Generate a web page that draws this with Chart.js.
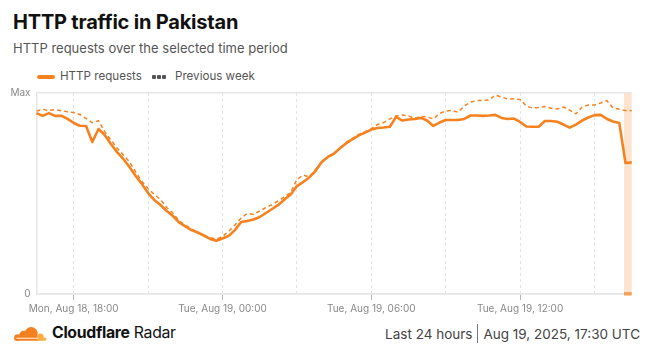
<!DOCTYPE html>
<html>
<head>
<meta charset="utf-8">
<script src="https://cdn.jsdelivr.net/npm/chart.js@4"></script>
<style>
  html,body{margin:0;padding:0;background:#fff;}
  body{width:648px;height:355px;position:relative;overflow:hidden;font-family:Inter,"Noto Sans",sans-serif;}
  .abs{position:absolute;white-space:nowrap;}
  #title{left:13px;top:10px;font-size:20px;font-weight:700;color:#111;letter-spacing:-0.2px;}
  #subtitle{left:13px;top:40px;font-size:13px;color:#555;}
  .leg{top:69px;font-size:11.6px;color:#555;}
  #sw1{left:37px;top:75px;width:18px;height:4px;border-radius:2px;background:#f6821f;}
  .dot{top:75px;width:4px;height:4px;background:#555;border-radius:1px;}
  #chartwrap{left:0;top:81px;width:648px;height:239px;}
  #brand{left:52px;top:323px;font-size:15.8px;color:#111;letter-spacing:-0.3px;}
  #stamp{right:8px;top:324px;font-size:13.5px;color:#444;display:flex;align-items:center;}
  #sep{display:inline-block;width:1px;height:19px;background:#777;margin:0 5px;}
</style>
</head>
<body>
<div id="title" class="abs">HTTP traffic in Pakistan</div>
<div id="subtitle" class="abs">HTTP requests over the selected time period</div>
<div id="sw1" class="abs"></div>
<div class="abs leg" style="left:60px">HTTP requests</div>
<div class="abs dot" style="left:152px"></div>
<div class="abs dot" style="left:157px"></div>
<div class="abs dot" style="left:162px"></div>
<div class="abs leg" style="left:175px">Previous week</div>
<div id="chartwrap" class="abs"><canvas id="c" width="648" height="239"></canvas></div>
<svg class="abs" style="left:11px;top:324px" width="36" height="17" viewBox="0 0 66 30">
  <g fill="#f38020">
    <circle cx="37" cy="17" r="12"/>
    <circle cx="23" cy="20" r="8"/>
    <circle cx="12" cy="24" r="6"/>
    <rect x="6" y="22" width="46" height="8" rx="3"/>
  </g>
  <g fill="#fbad41">
    <circle cx="54" cy="23" r="6"/>
    <rect x="48" y="24" width="17" height="6" rx="3"/>
  </g>
  <path d="M10 25.5 L50 25.5" stroke="#fff" stroke-width="1.6"/>
</svg>
<div id="brand" class="abs"><b>Cloudflare</b> Radar</div>
<div id="stamp" class="abs"><span>Last 24 hours</span><span id="sep"></span><span>Aug 19, 2025, 17:30 UTC</span></div>

<script>
// ---- data (values as % of period maximum, 15-minute steps, Aug 18 16:30 -> Aug 19 16:30 UTC) ----
const startTimeUTC = "2025-08-18T16:30:00Z";
const stepMinutes = 15;

const httpRequests = [
  90.0, 88.6, 90.0, 88.6, 88.7, 87.1, 85.1, 83.7, 83.6, 75.6,
  82.1, 79.1, 74.6, 70.6, 67.2, 63.2, 58.7, 54.7, 50.2, 46.8,
  44.3, 41.3, 38.8, 35.6, 33.6, 31.8, 30.6, 29.1, 27.4, 26.5,
  27.6, 28.9, 31.8, 35.8, 36.3, 37.1, 38.3, 40.3, 42.3, 44.3,
  47.0, 49.5, 53.7, 55.7, 58.0, 61.2, 65.7, 68.2, 69.9, 72.6,
  75.1, 77.1, 78.9, 80.3, 81.8, 82.6, 82.8, 83.2, 88.1, 86.3,
  86.8, 87.1, 87.6, 86.3, 83.6, 85.3, 86.6, 86.6, 86.6, 87.1,
  88.8, 88.8, 88.6, 88.8, 89.1, 87.6, 87.1, 87.3, 85.6, 83.3,
  83.2, 83.2, 86.1, 86.1, 85.7, 84.3, 82.8, 84.3, 86.3, 87.8,
  89.0, 89.1, 87.1, 85.8, 85.1, 65.2, 65.5
];

const previousWeek = [
  91.0, 91.9, 91.3, 91.7, 91.2, 90.7, 90.3, 89.3, 87.3, 85.2,
  86.2, 80.8, 76.6, 72.6, 69.2, 65.7, 60.7, 56.0, 52.5, 49.5,
  47.0, 43.0, 40.3, 36.3, 34.3, 32.3, 30.7, 29.2, 28.0, 27.3,
  28.6, 31.2, 34.3, 37.8, 40.1, 39.6, 41.3, 43.0, 44.5, 46.3,
  48.3, 50.5, 57.0, 59.2, 58.2, 61.9, 65.7, 67.9, 69.7, 72.6,
  75.6, 77.6, 79.4, 80.8, 82.3, 84.3, 85.3, 87.1, 88.6, 89.1,
  88.6, 87.3, 88.4, 88.1, 87.1, 89.8, 91.0, 91.3, 90.4, 93.5,
  95.5, 96.2, 96.3, 96.5, 99.0, 98.0, 97.0, 97.1, 96.8, 93.5,
  92.5, 92.8, 93.3, 92.4, 92.0, 93.0, 91.5, 89.6, 93.0, 94.0,
  94.0, 95.0, 96.2, 92.5, 91.9, 91.3, 91.2
];

const xTickIndexes = [6, 30, 54, 78];
const xTickLabels = ["Mon, Aug 18, 18:00", "Tue, Aug 19, 00:00", "Tue, Aug 19, 06:00", "Tue, Aug 19, 12:00"];
const yTickValues = [0, 100];
const yTickLabels = ["0", "Max"];
const highlightFromIndex = 95;

// categories: timestamps of each 15-minute step
const categories = [];
{
  const t0 = Date.parse(startTimeUTC);
  for (let i = 0; i < httpRequests.length; i++) {
    categories.push(new Date(t0 + i * stepMinutes * 60000).toISOString());
  }
}

const ORANGE = '#f6821f';
const GRID = '#e6e6e6';

const bandPlugin = {
  id: 'band',
  beforeDatasetsDraw(chart) {
    const {ctx, chartArea, scales} = chart;
    const x0 = scales.x.getPixelForValue(highlightFromIndex) - 1.5;
    ctx.save();
    ctx.fillStyle = '#fde4cf';
    ctx.fillRect(x0, chartArea.top, chartArea.right - x0, chartArea.bottom - chartArea.top);
    ctx.restore();
  },
  afterDatasetsDraw(chart) {
    const {ctx, chartArea, scales} = chart;
    const x0 = scales.x.getPixelForValue(highlightFromIndex) - 1.5;
    ctx.save();
    ctx.fillStyle = '#f7a057';
    ctx.fillRect(x0, chartArea.bottom - 2, chartArea.right - x0, 3.5);
    ctx.restore();
  }
};

new Chart(document.getElementById('c'), {
  type: 'line',
  data: {
    labels: categories,
    datasets: [
      {
        label: 'HTTP requests',
        data: httpRequests,
        borderColor: ORANGE,
        borderWidth: 2.6,
        pointRadius: 0,
        tension: 0,
        borderJoinStyle: 'round',
        fill: false
      },
      {
        label: 'Previous week',
        data: previousWeek,
        borderColor: ORANGE,
        borderWidth: 1.5,
        borderDash: [4, 3],
        pointRadius: 0,
        tension: 0,
        fill: false
      }
    ]
  },
  options: {
    responsive: false,
    animation: false,
    layout: {padding: {left: 0, right: 16.3, top: 4, bottom: 0}},
    plugins: {legend: {display: false}, tooltip: {enabled: false}},
    scales: {
      x: {
        type: 'category',
        offset: false,
        afterFit(scale) { scale.height = 26; },
        grid: {
          color: (c) => (c.index % 12 === 6 ? '#e3e3e3' : 'rgba(0,0,0,0)'),
          lineWidth: 1,
          drawTicks: true,
          tickLength: 6,
          tickColor: (c) => (xTickIndexes.includes(c.index) ? '#b5b5b5' : 'rgba(0,0,0,0)'),
          tickBorderDash: []
        },
        border: {display: true, color: GRID, width: 1.5, dash: [3, 3]},
        ticks: {
          autoSkip: false,
          maxRotation: 0,
          minRotation: 0,
          padding: 3,
          color: '#888',
          font: {family: 'Inter', size: 10},
          callback(value, index) {
            const k = xTickIndexes.indexOf(index);
            return k >= 0 ? xTickLabels[k] : '';
          }
        }
      },
      y: {
        min: 0,
        max: 100,
        afterFit(scale) { scale.width = 36.5; },
        afterBuildTicks(scale) { scale.ticks = yTickValues.map(v => ({value: v})); },
        grid: {color: GRID, lineWidth: 1.5, drawTicks: false},
        border: {display: true, color: GRID, width: 1.5},
        ticks: {
          padding: 6,
          color: '#888',
          font: {family: 'Inter', size: 10},
          callback(value) {
            const k = yTickValues.indexOf(value);
            return k >= 0 ? yTickLabels[k] : '';
          }
        }
      }
    }
  },
  plugins: [bandPlugin]
});
</script>
</body>
</html>
